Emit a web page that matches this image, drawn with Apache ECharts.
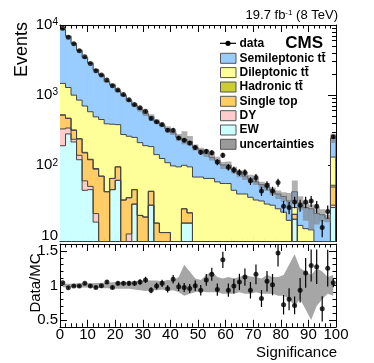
<!DOCTYPE html>
<html>
<head>
<meta charset="utf-8">
<script src="https://cdn.jsdelivr.net/npm/echarts@6/dist/echarts.min.js"></script>
<style>
html, body { margin: 0; padding: 0; background: #fff; }
#main { width: 374px; height: 363px; }
</style>
</head>
<body>
<div id="main"></div>
<script>
// significance histogram, 2-unit bins from 0 to 100 (last bin holds the overflow)
var binWidth = 2;
var xTickStep = 10;

var dataCounts = [9000, 6700, 5400, 4300, 3530, 2830, 2230, 1930, 1640, 1360,
                  1180, 1020, 860, 736, 659, 590, 464, 416, 381, 316,
                  316, 245, 228, 208, 179, 153, 158, 151, 111, 139,
                  94, 86, 79, 79, 60, 67, 43, 52, 43, 57,
                  26, 25, 30, 27, 30, 31, 26, 13, 22, 255];

var ratioVals = [1.04, 0.965, 0.99, 0.99, 1.03, 0.99, 0.97, 0.995, 1.05, 0.97,
                 1.03, 1.03, 1.03, 1.03, 1.05, 1.08, 0.93, 0.99, 1.03, 0.95,
                 1.09, 0.98, 0.97, 0.955, 0.995, 0.93, 1.08, 1.16, 0.94, 1.37,
                 0.93, 0.99, 1.05, 1.12, 0.93, 1.16, 0.81, 1.06, 1.01, 1.47,
                 0.72, 0.80, 0.71, 0.93, 1.18, 1.29, 1.27, 0.66, 1.25, 1.04];

// relative MC uncertainty (up / down)
var uncUp = [0.025, 0.025, 0.025, 0.03, 0.03, 0.03, 0.035, 0.04, 0.04, 0.045,
             0.05, 0.05, 0.05, 0.06, 0.07, 0.08, 0.07, 0.07, 0.06, 0.08,
             0.07, 0.12, 0.3, 0.2, 0.1, 0.08, 0.15, 0.2, 0.12, 0.1,
             0.12, 0.1, 0.12, 0.15, 0.13, 0.12, 0.1, 0.15, 0.12, 0.12,
             0.15, 0.3, 0.45, 0.25, 0.2, 0.15, 0.25, 0.2, 0.12, 0.15];
var uncDown = [0.025, 0.025, 0.025, 0.03, 0.03, 0.03, 0.035, 0.04, 0.04, 0.045,
               0.05, 0.05, 0.05, 0.06, 0.07, 0.08, 0.07, 0.07, 0.06, 0.08,
               0.07, 0.1, 0.15, 0.12, 0.1, 0.08, 0.1, 0.1, 0.1, 0.12,
               0.12, 0.12, 0.1, 0.12, 0.12, 0.1, 0.12, 0.12, 0.12, 0.15,
               0.15, 0.2, 0.3, 0.2, 0.35, 0.5, 0.3, 0.2, 0.12, 0.15];

var ewVals = [190, 280, 215, 120, 44, 45, 15.5, 0, 0, 45,
              61, 0, 0, 28, 0, 0, 27, 0, 0, 0,
              0, 0, 15, 15, 0, 0, 0, 0, 0, 0,
              0, 0, 0, 0, 0, 0, 0, 0, 0, 0,
              0, 0, 17, 0, 0, 0, 0, 0, 0, 25];
var dyVals = [140, 60, 20, 19, 16, 5, 5, 0, 0, 0,
              0, 0, 10.5, 0, 0, 0, 0, 0, 0, 0,
              0, 0, 0, 0, 0, 0, 0, 0, 0, 0,
              0, 0, 0, 0, 0, 0, 0, 0, 0, 0,
              0, 0, 0, 0, 0, 0, 0, 0, 0, 2];
var singleTopVals = [188, 125, 80, 98, 90, 70, 67.5, 70, 42, 20,
                     34, 32, 24, 17, 19.3, 18.3, 15.6, 15, 11, 11,
                     5, 5, 9, 6, 3, 3, 3, 3, 2, 2,
                     2, 2, 2, 2, 2, 2, 2, 2, 2, 2,
                     2, 2, 3, 1, 1, 1, 1, 1, 1, 22];
var hadronicVals = [6, 5, 4, 3, 3, 2, 2, 0, 0, 0,
                    0, 0, 0, 0, 0, 0, 0, 0, 0, 0,
                    0, 0, 0, 0, 0, 0, 0, 0, 0, 0,
                    0, 0, 0, 0, 0, 0, 0, 0, 0, 0,
                    0, 0, 0, 0, 0, 0, 0, 0, 0, 3];
var dileptonicVals = [946, 815, 681, 610, 547, 458, 400, 380, 348, 320,
                      285, 243, 225, 205, 191, 172, 142, 127, 114, 98,
                      93, 90, 76, 74, 65, 65, 62, 62, 56, 53,
                      53, 42, 37, 37, 33, 30, 29, 26, 25, 22,
                      19.5, 14.4, 5, 12.9, 11.5, 11, 7, 6, 5, 79];
var semileptonicVals = [7180, 5650, 4450, 3490, 2730, 2280, 1810, 1490, 1170, 1015,
                        765, 715, 575, 465, 418, 356, 314, 278, 245, 224,
                        192, 155, 135, 123, 112, 97, 81, 65, 60, 46,
                        46, 43, 36, 31, 30, 26, 22, 21, 16, 15,
                        14.5, 14.6, 17, 15.1, 12.5, 12, 12.5, 12.7, 11.6, 114];

var yLogTicks = [10, 100, 1000, 10000];
var yLogMinorTicks = [9, 20, 30, 40, 50, 60, 70, 80, 90, 200, 300, 400, 500, 600, 700, 800, 900,
                      2000, 3000, 4000, 5000, 6000, 7000, 8000, 9000];
var ratioTicks = [0.5, 1, 1.5];

var FONT = '"Liberation Sans", Arial, Helvetica, sans-serif';
var yMin = 8.2, yMax = 10000;
var nBins = dataCounts.length;
var edges = [];
for (var i = 0; i <= nBins; i++) edges.push(i * binWidth);
var centers = edges.slice(0, nBins).map(function (e) { return e + binWidth / 2; });
function clampY(v) { return Math.max(v, yMin); }

// stack components bottom -> top
var comps = [
  { name: 'EW', vals: ewVals, color: '#ccffff' },
  { name: 'DY', vals: dyVals, color: '#ffcccc' },
  { name: 'Single top', vals: singleTopVals, color: '#ffcc66' },
  { name: 'Hadronic tt\u0304', vals: hadronicVals, color: '#cccc33' },
  { name: 'Dileptonic tt\u0304', vals: dileptonicVals, color: '#ffff99' },
  { name: 'Semileptonic tt\u0304', vals: semileptonicVals, color: '#99ccff' }
];
var cum = dataCounts.map(function () { return 0; });
comps.forEach(function (c) {
  c.lower = cum.slice();
  cum = cum.map(function (v, i) { return v + c.vals[i]; });
  c.upper = cum.slice();
});
var mcTotal = cum;

function stackRender(color) {
  return function (params, api) {
    var tl = api.coord([api.value(0), api.value(3)]);
    var br = api.coord([api.value(1), api.value(2)]);
    var nx = api.coord([api.value(1), api.value(4)]);
    return {
      type: 'group',
      children: [
        { type: 'rect', z2: 0,
          shape: { x: tl[0], y: tl[1], width: br[0] - tl[0] + 0.6, height: br[1] - tl[1] },
          style: { fill: color } },
        { type: 'polyline', z2: 10,
          shape: { points: [[tl[0], tl[1]], [br[0], tl[1]], [br[0], nx[1]]] },
          style: { stroke: '#454545', lineWidth: 1, fill: null } }
      ]
    };
  };
}

var series = [];
comps.forEach(function (c) {
  series.push({
    type: 'custom', name: c.name, xAxisIndex: 0, yAxisIndex: 0, z: 2, clip: true, silent: true,
    encode: { x: [0, 1], y: [2, 3] },
    renderItem: stackRender(c.color),
    data: c.upper.map(function (u, i) {
      var next = i < nBins - 1 ? c.upper[i + 1] : yMin;
      return [edges[i], edges[i + 1], clampY(c.lower[i]), clampY(u), clampY(next)];
    })
  });
});

// MC uncertainty boxes
series.push({
  type: 'custom', name: 'uncertainties', xAxisIndex: 0, yAxisIndex: 0, z: 3, clip: true, silent: true,
  encode: { x: [0, 1], y: [2, 3] },
  renderItem: function (params, api) {
    var tl = api.coord([api.value(0), api.value(3)]);
    var br = api.coord([api.value(1), api.value(2)]);
    return { type: 'rect', shape: { x: tl[0], y: tl[1], width: br[0] - tl[0] + 0.4, height: br[1] - tl[1] },
             style: { fill: 'rgba(125,125,125,0.6)' } };
  },
  data: mcTotal.map(function (t, i) {
    return [edges[i], edges[i + 1], clampY(t * (1 - uncDown[i])), clampY(t * (1 + uncUp[i]))];
  })
});

function errRender(params, api) {
  var a = api.coord([api.value(0), api.value(1)]);
  var b = api.coord([api.value(0), api.value(2)]);
  return { type: 'line', shape: { x1: a[0], y1: a[1], x2: b[0], y2: b[1] },
           style: { stroke: '#000', lineWidth: 1.2 } };
}

// data points, Poisson errors
series.push({
  type: 'custom', xAxisIndex: 0, yAxisIndex: 0, z: 4, silent: true, clip: true,
  encode: { x: 0, y: [1, 2] },
  renderItem: errRender,
  data: dataCounts.map(function (n, i) {
    var e = Math.sqrt(n);
    return [centers[i], clampY(n - e), n + e];
  })
});
series.push({
  type: 'scatter', name: 'data', xAxisIndex: 0, yAxisIndex: 0, z: 5, silent: true,
  symbolSize: 5, itemStyle: { color: '#000' },
  data: dataCounts.map(function (n, i) { return [centers[i], n]; })
});

// ratio panel: MC uncertainty band drawn as one polygon through the bin centres
series.push({
  type: 'custom', xAxisIndex: 2, yAxisIndex: 4, z: 2, silent: true, clip: true,
  encode: { x: 0, y: [1, 2] },
  renderItem: function (params, api) {
    if (params.dataIndex !== 0) return null;
    var top = [], bot = [];
    for (var k = 0; k < nBins; k++) {
      top.push(api.coord([centers[k], 1 + uncUp[k]]));
      bot.push(api.coord([centers[k], 1 - uncDown[k]]));
    }
    return { type: 'polygon', shape: { points: top.concat(bot.reverse()) },
             style: { fill: '#a6a6a6' } };
  },
  data: centers.map(function (c, i) { return [c, 1 - uncDown[i], 1 + uncUp[i]]; })
});
series.push({
  type: 'custom', xAxisIndex: 2, yAxisIndex: 4, z: 4, silent: true, clip: true,
  encode: { x: 0, y: [1, 2] },
  renderItem: errRender,
  data: ratioVals.map(function (r, i) {
    var e = r / Math.sqrt(dataCounts[i]);
    return [centers[i], r - e, r + e];
  })
});
series.push({
  type: 'scatter', xAxisIndex: 2, yAxisIndex: 4, z: 5, silent: true,
  symbolSize: 5, itemStyle: { color: '#000' },
  data: ratioVals.map(function (r, i) { return [centers[i], r]; })
});

var lineBlack = { show: true, lineStyle: { color: '#000', width: 1 } };

function xAx(grid, pos, showLabel) {
  return {
    type: 'value', gridIndex: grid, position: pos, min: 0, max: 100, interval: xTickStep,
    axisLine: lineBlack, splitLine: { show: false },
    axisTick: { show: true, inside: true, length: 7, lineStyle: { color: '#000' } },
    minorTick: { show: true, splitNumber: 5, length: 3.5, lineStyle: { color: '#000' } },
    axisLabel: { show: showLabel, margin: 1, fontFamily: FONT, fontSize: 15, color: '#000' }
  };
}
function yLog(pos, major) {
  return {
    type: 'log', gridIndex: 0, position: pos, min: yMin, max: yMax, logBase: 10,
    axisLine: major ? lineBlack : { show: false }, splitLine: { show: false },
    axisTick: { show: true, inside: true, length: major ? 8 : 4,
                customValues: major ? yLogTicks : yLogMinorTicks, lineStyle: { color: '#000' } },
    axisLabel: {
      show: major && pos === 'left', customValues: yLogTicks, margin: 2,
      fontFamily: FONT, fontSize: 15, color: '#000',
      formatter: function (v) {
        var p = Math.round(Math.log(v) / Math.LN10);
        return p === 1 ? '10' : '10{sup|' + p + '}';
      },
      rich: { sup: { fontFamily: FONT, fontSize: 10, color: '#000', verticalAlign: 'top', lineHeight: 10 } }
    }
  };
}
function yRatio(pos, major) {
  var ax = {
    type: 'value', gridIndex: 1, position: pos, min: 0.4, max: 1.6,
    axisLine: major ? lineBlack : { show: false }, splitLine: { show: false },
    axisTick: { show: true, inside: true, length: major ? 7 : 3.5, lineStyle: { color: '#000' } },
    axisLabel: { show: major && pos === 'left', margin: 2, fontFamily: FONT, fontSize: 15, color: '#000' }
  };
  if (major) {
    ax.axisTick.customValues = ratioTicks;
    ax.axisLabel.customValues = ratioTicks;
  } else {
    ax.interval = 0.1;
  }
  return ax;
}

var chart = echarts.init(document.getElementById('main'));
chart.setOption({
  animation: false,
  backgroundColor: '#fff',
  grid: [
    { left: 60, right: 38, top: 25, height: 216.5, outerBoundsMode: 'none' },
    { left: 60, right: 38, top: 244, height: 82.8, outerBoundsMode: 'none' }
  ],
  xAxis: [xAx(0, 'bottom', false), xAx(0, 'top', false), xAx(1, 'bottom', true), xAx(1, 'top', false)],
  yAxis: [yLog('left', true), yLog('left', false), yLog('right', true), yLog('right', false),
          yRatio('left', true), yRatio('left', false), yRatio('right', true), yRatio('right', false)],
  series: series,
  graphic: (function () {
    var g = [];
    var legendRows = [
      { label: 'data', y: 43.3 },
      { label: 'Semileptonic tt\u0304', y: 58.3, color: '#99ccff' },
      { label: 'Dileptonic tt\u0304', y: 72.6, color: '#ffff99' },
      { label: 'Hadronic tt\u0304', y: 87, color: '#cccc33' },
      { label: 'Single top', y: 101.3, color: '#ffcc66' },
      { label: 'DY', y: 115.7, color: '#ffcccc' },
      { label: 'EW', y: 130, color: '#ccffff' },
      { label: 'uncertainties', y: 144.3, color: '#9a9a9a' }
    ];
    legendRows.forEach(function (r) {
      if (r.color) {
        g.push({ type: 'rect', z: 100, shape: { x: 220.5, y: r.y - 5, width: 15.5, height: 10 },
                 style: { fill: r.color, stroke: '#555', lineWidth: 1 } });
      } else {
        g.push({ type: 'line', z: 100, shape: { x1: 220, y1: r.y, x2: 236, y2: r.y },
                 style: { stroke: '#000', lineWidth: 1.2 } });
        g.push({ type: 'circle', z: 100, shape: { cx: 228, cy: r.y, r: 2.6 }, style: { fill: '#000' } });
      }
      g.push({ type: 'text', z: 100, x: 239.5, y: r.y,
               style: { text: r.label, font: 'bold 12px ' + FONT, fill: '#000', align: 'left', verticalAlign: 'middle' } });
    });
    g.push({ type: 'text', z: 100, x: 323, y: 43.5,
             style: { text: 'CMS', font: 'bold 17px ' + FONT, fill: '#000', align: 'right', verticalAlign: 'middle' } });
    g.push({ type: 'text', z: 100, x: 338, y: 15,
             style: { text: '{a|19.7 fb}{s|-1}{a| (8 TeV)}', align: 'right', verticalAlign: 'middle',
                      rich: { a: { fontFamily: FONT, fontSize: 13, fill: '#000', color: '#000' },
                              s: { fontFamily: FONT, fontSize: 8, fill: '#000', color: '#000', verticalAlign: 'top', lineHeight: 8 } } } });
    g.push({ type: 'text', z: 100, x: 22, y: 22, rotation: Math.PI / 2,
             style: { text: 'Events', font: '18px ' + FONT, fill: '#000', align: 'right', verticalAlign: 'middle' } });
    g.push({ type: 'text', z: 100, x: 36, y: 283, rotation: Math.PI / 2,
             style: { text: 'Data/MC', font: '15px ' + FONT, fill: '#000', align: 'center', verticalAlign: 'middle' } });
    g.push({ type: 'text', z: 100, x: 337, y: 353,
             style: { text: 'Significance', font: '15px ' + FONT, fill: '#000', align: 'right', verticalAlign: 'middle' } });
    return g;
  })()
});
</script>
</body>
</html>
